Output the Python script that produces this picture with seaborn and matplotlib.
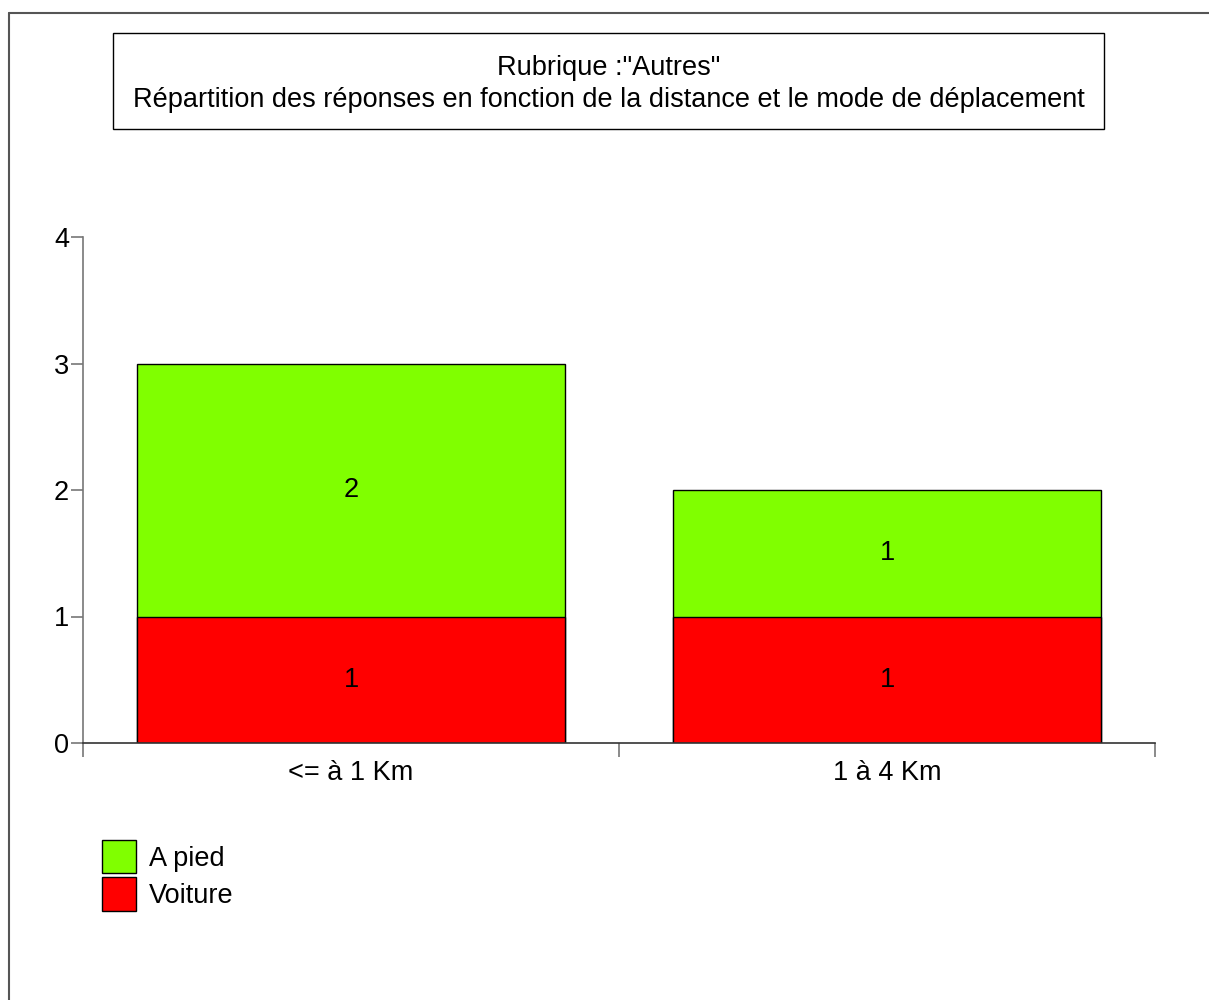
import matplotlib
matplotlib.use("Agg")
import matplotlib.pyplot as plt
import seaborn as sns
import pandas as pd
from matplotlib.patches import Patch, Rectangle
from matplotlib.lines import Line2D

# Data
categories = ["<= à 1 Km", "1 à 4 Km"]
voiture = [1, 1]
a_pied = [2, 1]
series_names = ["A pied", "Voiture"]
colors = {"A pied": "#80FF00", "Voiture": "#FF0000"}

totals = [v + p for v, p in zip(voiture, a_pied)]
df = pd.DataFrame({"distance": categories, "voiture": voiture, "a_pied": a_pied, "total": totals})

sns.set_style("ticks")
plt.rcParams["font.family"] = ["Liberation Sans", "DejaVu Sans"]
plt.rcParams["text.color"] = "black"
plt.rcParams["xtick.labelcolor"] = "black"
plt.rcParams["ytick.labelcolor"] = "black"
fs = 19.5

fig = plt.figure(figsize=(12.09, 10), dpi=100)
ax = fig.add_axes([83 / 1209, 1 - 743 / 1000, (1155 - 83) / 1209, (743 - 237) / 1000])

# stacked bars: total first, then bottom segment on top of it
sns.barplot(data=df, x="distance", y="total", color=colors["A pied"], saturation=1,
            edgecolor="black", linewidth=1, width=0.8, ax=ax)
sns.barplot(data=df, x="distance", y="voiture", color=colors["Voiture"], saturation=1,
            edgecolor="black", linewidth=1, width=0.8, ax=ax)

# value labels in the middle of each segment
for i, cat in enumerate(categories):
    ax.text(i, voiture[i] / 2, str(voiture[i]), ha="center", va="center", fontsize=fs, color="black")
    ax.text(i, voiture[i] + a_pied[i] / 2, str(a_pied[i]), ha="center", va="center", fontsize=fs, color="black")

ax.set_xlim(-0.5, 1.5)
ax.set_ylim(0, 4)
ax.set_yticks([0, 1, 2, 3, 4])
ax.set_xlabel("")
ax.set_ylabel("")
ax.set_xticks(range(len(categories)))
ax.set_xticklabels(categories, fontsize=fs)
ax.set_xticks([-0.5, 0.5, 1.5], minor=True)
ax.tick_params(axis="x", which="major", length=0, pad=12)
ax.tick_params(axis="x", which="minor", length=10, color="#777777", width=1.2)
ax.tick_params(axis="y", length=9, color="#777777", width=1.2, labelsize=fs, pad=1)
for s in ["top", "right"]:
    ax.spines[s].set_visible(False)
ax.spines["left"].set_color("#777777")
ax.spines["bottom"].set_color("#333333")
ax.spines["left"].set_linewidth(1.2)
ax.spines["bottom"].set_linewidth(1.2)

# title box
fig.add_artist(Rectangle((113 / 1209, 1 - 129 / 1000), (1104 - 113) / 1209, (129 - 33) / 1000,
                         transform=fig.transFigure, fill=False, edgecolor="black", linewidth=1))
fig.text(608.5 / 1209, 1 - 84 / 1000,
         'Rubrique :"Autres"\nRépartition des réponses en fonction de la distance et le mode de déplacement',
         ha="center", va="center", fontsize=fs, linespacing=1.3, color="black")

# frame lines at top and left
fig.add_artist(Line2D([9 / 1209, 1], [1 - 13 / 1000, 1 - 13 / 1000], transform=fig.transFigure,
                      color="#555555", linewidth=1.5))
fig.add_artist(Line2D([9 / 1209, 9 / 1209], [0, 1 - 13 / 1000], transform=fig.transFigure,
                      color="#555555", linewidth=1.5))

# legend
handles = [Patch(facecolor=colors[n], edgecolor="black", linewidth=1) for n in series_names]
fig.legend(handles, series_names, loc="upper left", bbox_to_anchor=(102 / 1209, 1 - 840 / 1000),
           frameon=False, fontsize=fs, handlelength=1.26, handleheight=1.52,
           labelspacing=0.15, handletextpad=0.48, borderpad=0, borderaxespad=0)

fig.savefig("out.png", dpi=100)
